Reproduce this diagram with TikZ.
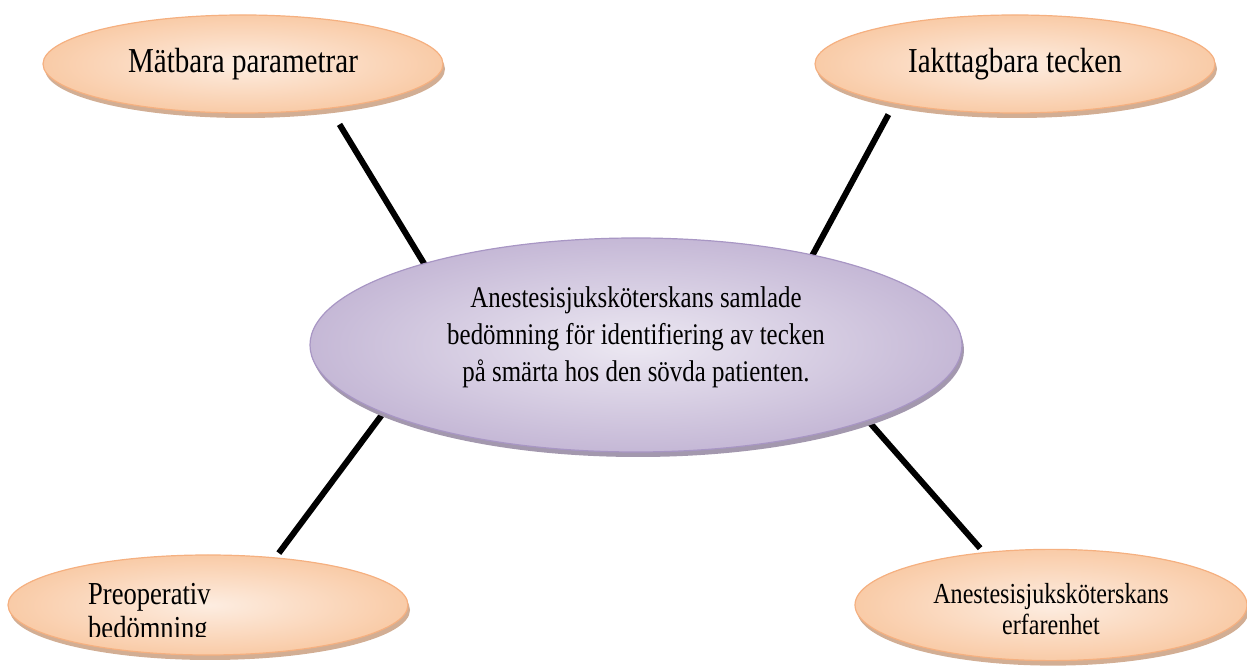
\documentclass[tikz,border=0pt]{standalone}
\usepackage{fontspec}
\setmainfont{Liberation Serif}[FakeStretch=0.83]
\usetikzlibrary{positioning,shapes.geometric,shadows,backgrounds}
\definecolor{peachlight}{HTML}{FDEDE1}
\definecolor{peachdark}{HTML}{F9CBA7}
\definecolor{peachline}{HTML}{F5B080}
\definecolor{peachshadow}{HTML}{D2AE94}
\definecolor{lilaclight}{HTML}{ECE8F2}
\definecolor{lilacdark}{HTML}{C5B8D6}
\definecolor{lilacline}{HTML}{A896C4}
\definecolor{lilacshadow}{HTML}{A398AE}

\begin{document}
\begin{tikzpicture}[node distance=10mm,on grid,
		topic/.style={ellipse,draw=peachline,line width=1.2pt,inner color=peachlight,outer color=peachdark,
			minimum width=400pt,minimum height=98pt,outer sep=0pt,font=\fontsize{35pt}{40pt}\selectfont,
			drop shadow={shadow xshift=2pt,shadow yshift=-5pt,fill=peachshadow,opacity=1}},
		core/.style={ellipse,draw=lilacline,line width=1.2pt,inner color=lilaclight,outer color=lilacdark,
			minimum width=652pt,minimum height=214pt,outer sep=0pt,align=center,
			font=\fontsize{30pt}{37pt}\selectfont,
			drop shadow={shadow xshift=2pt,shadow yshift=-5pt,fill=lilacshadow,opacity=1}},
		link/.style={line width=6pt,black}]
		\useasboundingbox (0pt,0pt) rectangle (1247pt,666pt);
		
		\node[core,text height=92pt,text depth=18pt]  (core)  at (636pt,321pt)
			{Anestesisjuksköterskans samlade\\bedömning för identifiering av tecken\\på smärta hos den sövda patienten.};
		\node[topic]  (mat)   [above left=281pt and 393pt of core]   {Mätbara parametrar};
		\node[topic]  (iakt)  [above right=281pt and 379pt of core]  {Iakttagbara tecken};
		\node[topic,minimum height=100pt]  (preop) [below left=260pt and 428pt of core]  {};
		\node[topic,minimum width=392pt,minimum height=100pt,align=center,
			font=\fontsize{29pt}{31pt}\selectfont,text height=66pt,text depth=6pt]
			(erf)   [below right=260pt and 415pt of core]  {Anestesisjuksköterskans\\erfarenhet};
		
		\begin{scope}
		\clip ([yshift=-32pt]preop.west) rectangle (preop.north east);
		\node[align=left,inner sep=0pt,font=\fontsize{32pt}{34pt}\selectfont]
			(preoptext) [right=80pt of preop.west,anchor=base west,yshift=-34pt] {Preoperativ\\bedömning};
		\end{scope}
		
		\begin{scope}[on background layer]
		\path[link]
		(mat.-27)   edge[shorten <=19pt,shorten >=-12pt] (core.159)
		(iakt.198)  edge[shorten <=13pt,shorten >=-12pt] (core.27)
		(preop.35)  edge[shorten <=6pt,shorten >=-12pt]  (core.195)
		(erf.142)   edge[shorten <=6pt,shorten >=-12pt]  (core.-18);
		\end{scope}
\end{tikzpicture}
\end{document}
